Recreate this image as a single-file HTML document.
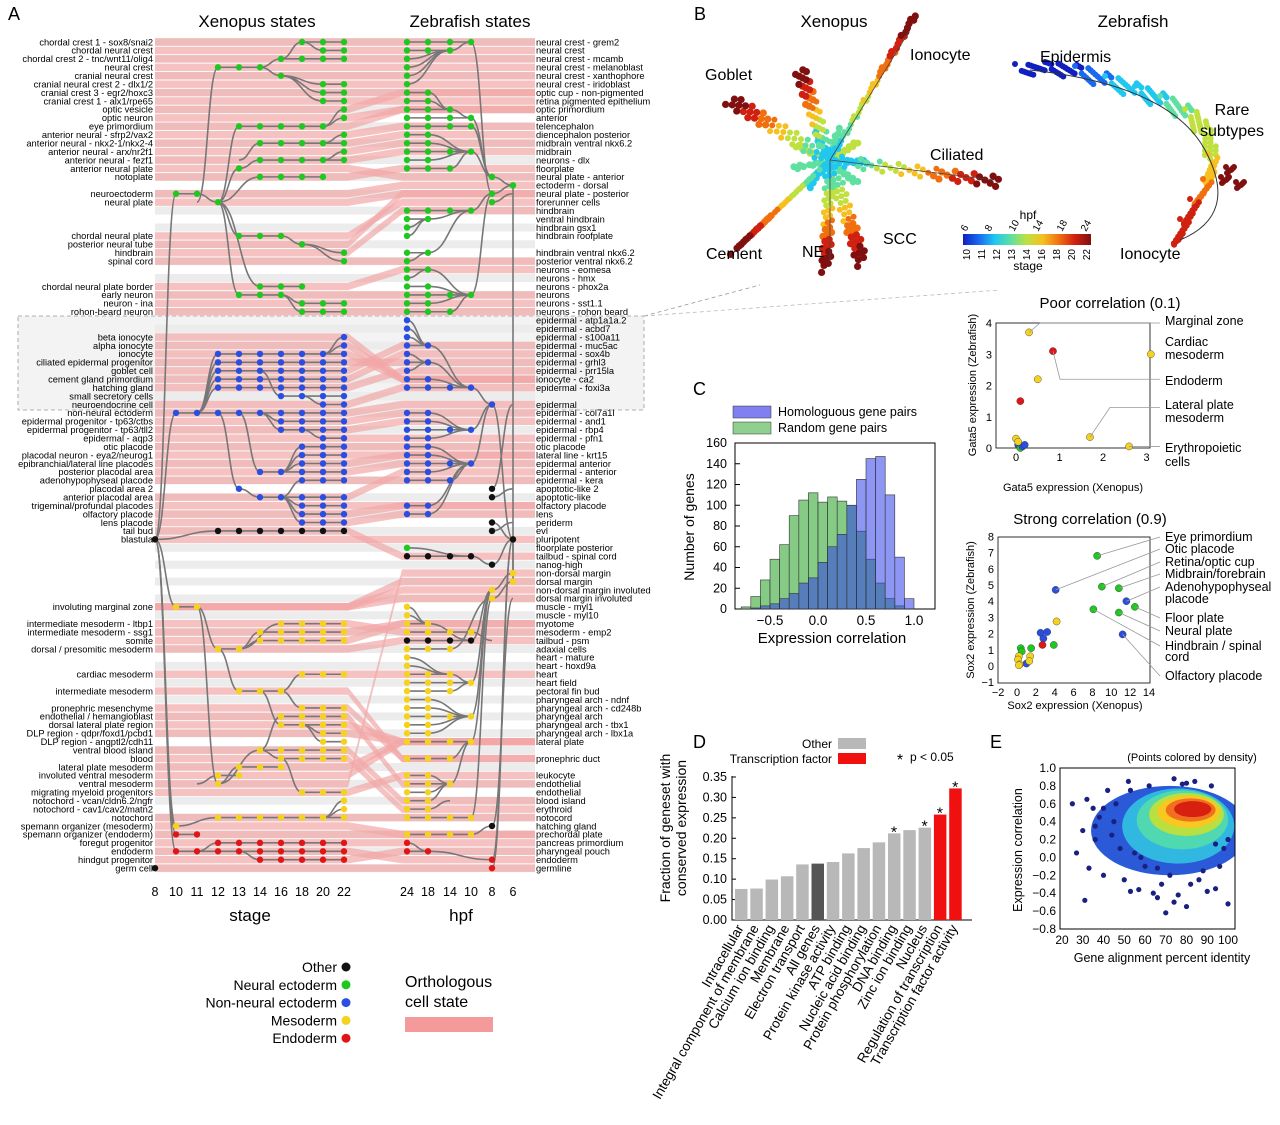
<!DOCTYPE html>
<html><head><meta charset="utf-8"><style>
html,body{margin:0;padding:0;background:#fff}
svg{display:block;font-family:"Liberation Sans",sans-serif}
</style></head><body>
<svg id="fig" width="1280" height="1125" viewBox="0 0 1280 1125" xmlns="http://www.w3.org/2000/svg">
<defs>
<clipPath id="eclip"><rect x="1060" y="768" width="175" height="161"/></clipPath>
</defs>
<g id="pA"></g>
<g id="pB"></g>
<g id="pC"></g>
<g id="pD"></g>
<g id="pE"></g>
</svg>
<script>
// ===== Panel A data =====
const leftRows = [
[0,"chordal crest 1 - sox8/snai2","n",7,9,2],[1,"chordal neural crest","n",8,9,0],[2,"chordal crest 2 - tnc/wnt11/olig4","n",6,9,3],
[3,"neural crest","n",3,5,19],[4,"cranial neural crest","n",6,6,3],[5,"cranial neural crest 2 - dlx1/2","n",8,9,4],
[6,"cranial crest 3 - egr2/hoxc3","n",8,9,4],[7,"cranial crest 1 - alx1/rpe65","n",8,9,4],[8,"optic vesicle","n",9,9,10],
[9,"optic neuron","n",9,9,10],[10,"eye primordium","n",4,8,19],[11,"anterior neural - sfrp2/vax2","n",9,9,12],
[12,"anterior neural - nkx2-1/nkx2-4","n",5,9,14],[13,"anterior neural - arx/nr2f1","n",9,9,14],[14,"anterior neural - fezf1","n",5,9,15],
[15,"anterior neural plate","n",4,4,19],[16,"notoplate","n",5,8,19],[18,"neuroectoderm","n",1,2,59],[19,"neural plate","n",3,3,18],
[23,"chordal neural plate","n",4,6,19],[24,"posterior neural tube","n",7,7,23],[25,"hindbrain","n",9,9,24],[26,"spinal cord","n",9,9,24],
[29,"chordal neural plate border","n",5,7,19],[30,"early neuron","n",4,6,19],[31,"neuron - ina","n",7,9,30],[32,"rohon-beard neuron","n",7,9,30],
[35,"beta ionocyte","e",9,9,37],[36,"alpha ionocyte","e",9,9,37],[37,"ionocyte","e",3,9,44],[38,"ciliated epidermal progenitor","e",3,9,44],
[39,"goblet cell","e",3,9,44],[40,"cement gland primordium","e",3,9,44],[41,"hatching gland","e",3,9,44],[42,"small secretory cells","e",6,9,39],
[43,"neuroendocrine cell","e",8,9,42],[44,"non-neural ectoderm","e",1,9,59],[45,"epidermal progenitor - tp63/ctbs","e",6,9,44],
[46,"epidermal progenitor - tp63/tll2","e",6,9,44],[47,"epidermal - aqp3","e",8,9,46],[48,"otic placode","e",7,9,51],
[49,"placodal neuron - eya2/neurog1","e",7,9,51],[50,"epibranchial/lateral line placodes","e",7,9,51],[51,"posterior placodal area","e",5,9,44],
[52,"adenohypophyseal placode","e",7,9,54],[53,"placodal area 2","e",4,4,44],[54,"anterior placodal area","e",5,9,53],
[55,"trigeminal/profundal placodes","e",7,9,54],[56,"olfactory placode","e",7,9,54],[57,"lens placode","e",7,9,54],
[58,"tail bud","o",3,9,59],[59,"blastula","o",0,0,-1],
[67,"involuting marginal zone","m",1,2,59],[69,"intermediate mesoderm - ltbp1","m",6,9,72],[70,"intermediate mesoderm - ssg1","m",5,9,72],
[71,"somite","m",5,9,72],[72,"dorsal / presomitic mesoderm","m",3,4,67],[75,"cardiac mesoderm","m",7,9,77],[77,"intermediate mesoderm","m",4,6,72],
[79,"pronephric mesenchyme","m",7,9,77],[80,"endothelial / hemangioblast","m",6,9,84],[81,"dorsal lateral plate region","m",6,9,77],
[82,"DLP region - qdpr/foxd1/pcbd1","m",8,9,81],[83,"DLP region - angptl2/cdh11","m",8,9,81],[84,"ventral blood island","m",5,9,88],
[85,"blood","m",6,9,84],[86,"lateral plate mesoderm","m",4,6,88],[87,"involuted ventral mesoderm","m",3,4,88],[88,"ventral mesoderm","m",3,3,67],
[89,"migrating myeloid progenitors","m",7,9,85],[90,"notochord - vcan/cldn6.2/ngfr","m",9,9,92],[91,"notochord - cav1/cav2/matn2","m",9,9,92],
[92,"notochord","m",3,9,93],[93,"spemann organizer (mesoderm)","m",1,1,59],[94,"spemann organizer (endoderm)","d",1,2,59],
[95,"foregut progenitor","d",3,9,96],[96,"endoderm","d",1,9,59],[97,"hindgut progenitor","d",5,9,96],[98,"germ cell","o",0,0,-1]
];
const rightRows = [
[0,"neural crest - grem2","n",3,18],[1,"neural crest","n",2,0],[2,"neural crest - mcamb","n",0,1],[3,"neural crest - melanoblast","n",0,1],
[4,"neural crest - xanthophore","n",0,1],[5,"neural crest - iridoblast","n",0,1],[6,"optic cup - non-pigmented","n",1,8],[7,"retina pigmented epithelium","n",1,8],
[8,"optic primordium","n",2,9],[9,"anterior","n",3,16],[10,"telencephalon","n",3,16],[11,"diencephalon posterior","n",1,13],
[12,"midbrain ventral nkx6.2","n",1,13],[13,"midbrain","n",3,16],[14,"neurons - dlx","n",1,13],[15,"floorplate","n",2,13],
[16,"neural plate - anterior","n",4,17],[17,"ectoderm - dorsal","n",5,59],[18,"neural plate - posterior","n",4,17],[19,"forerunner cells","n",4,18],
[20,"hindbrain","n",3,18],[21,"ventral hindbrain","n",1,20],[22,"hindbrain gsx1","n",0,21],[23,"hindbrain roofplate","n",0,21],
[25,"hindbrain ventral nkx6.2","n",1,20],[26,"posterior ventral nkx6.2","n",0,25],[27,"neurons - eomesa","n",1,30],[28,"neurons - hmx","n",0,27],
[29,"neurons - phox2a","n",1,30],[30,"neurons","n",3,18],[31,"neurons - sst1.1","n",1,30],[32,"neurons - rohon beard","n",2,30],
[33,"epidermal - atp1a1a.2","e",0,36],[34,"epidermal - acbd7","e",0,36],[35,"epidermal - s100a11","e",0,36],[36,"epidermal - muc5ac","e",1,41],
[37,"epidermal - sox4b","e",0,38],[38,"epidermal - grhl3","e",1,41],[39,"epidermal - prr15la","e",0,38],[40,"ionocyte - ca2","e",1,41],
[41,"epidermal - foxi3a","e",3,43],[43,"epidermal","e",4,59],[44,"epidermal - col7a1l","e",1,46],[45,"epidermal - and1","e",1,46],
[46,"epidermal - rbp4","e",3,43],[47,"epidermal - pfn1","e",1,46],[48,"otic placode","e",1,50],[49,"lateral line - krt15","e",1,50],
[50,"epidermal anterior","e",3,43],[51,"epidermal - anterior","e",1,50],[52,"epidermal - kera","e",2,50],[53,"apoptotic-like 2","o",4,43],
[54,"apoptotic-like","o",4,53],[55,"olfactory placode","e",1,50],[56,"lens","e",1,50],[57,"periderm","o",4,59],[58,"evl","o",4,57],
[59,"pluripotent","o",5,-1],[60,"floorplate posterior","n",0,61],[61,"tailbud - spinal cord","o",3,62],[62,"nanog-high","o",4,59],
[63,"non-dorsal margin","m",5,59],[64,"dorsal margin","m",5,59],[65,"non-dorsal margin involuted","m",4,63],[66,"dorsal margin involuted","m",4,64],
[67,"muscle - myl1","m",0,69],[68,"muscle - myl10","m",0,69],[69,"myotome","m",1,71],[70,"mesoderm - emp2","m",3,71],
[71,"tailbud - psm","o",3,65],[72,"adaxial cells","m",2,66],[73,"heart - mature","m",0,75],[74,"heart - hoxd9a","m",0,75],
[75,"heart","m",2,76],[76,"heart field","m",3,65],[77,"pectoral fin bud","m",2,76],[78,"pharyngeal arch - ndnf","m",1,80],
[79,"pharyngeal arch - cd248b","m",1,80],[80,"pharyngeal arch","m",3,65],[81,"pharyngeal arch - tbx1","m",1,80],[82,"pharyngeal arch - lbx1a","m",1,80],
[83,"lateral plate","m",3,65],[85,"pronephric duct","m",2,83],[87,"leukocyte","m",1,88],[88,"endothelial","m",2,83],[89,"endothelial","m",1,88],
[90,"blood island","m",1,88],[91,"erythroid","m",1,90],[92,"notocord","m",3,66],[93,"hatching gland","o",4,66],[94,"prechordal plate","m",3,93],
[95,"pancreas primordium","d",0,96],[96,"pharyngeal pouch","d",1,97],[97,"endoderm","d",4,59],[98,"germline","d",4,59]
];
const orthoPairs = [[0,0],[1,1],[2,2],[3,3],[4,4],[5,5],[6,6],[7,7],[8,6],[9,8],[10,8],[11,10],[12,11],[13,12],[14,13],[15,16],[16,15],
[18,17],[19,18],[23,19],[24,18],[25,20],[26,26],[29,27],[30,30],[31,31],[32,32],[35,40],[36,40],[37,40],[38,38],[39,36],[40,37],[41,39],
[43,41],[44,43],[45,44],[46,45],[47,47],[48,48],[49,49],[50,49],[51,50],[52,52],[54,51],[55,55],[56,55],[57,56],[58,61],[59,59],
[67,64],[67,65],[67,66],[69,70],[70,69],[71,69],[72,71],[75,75],[77,85],[79,85],[80,88],[81,83],[82,83],[84,90],[85,91],[86,83],[87,83],
[88,63],[89,87],[92,92],[93,94],[94,94],[95,95],[96,97],[97,96],[98,98]];
const stageTicks = ["8","10","11","12","13","14","16","18","20","22"];
const hpfTicks = ["24","18","14","10","8","6"];

// ===== Panel C data =====
const histBinStarts = [-0.8,-0.7,-0.6,-0.5,-0.4,-0.3,-0.2,-0.1,0.0,0.1,0.2,0.3,0.4,0.5,0.6,0.7,0.8,0.9];
const randomCounts =  [2,12,28,48,62,90,105,112,103,108,104,100,75,48,25,10,3,0];
const homologCounts = [0,1,3,5,10,15,25,30,45,60,72,100,125,145,147,110,50,10];
const histYTicks = [0,20,40,60,80,100,120,140,160];
const histXTicks = [-0.5,0.0,0.5,1.0];

// ===== Panel D data =====
const goCategories = ["Intracellular","Integral component of membrane","Calcium ion binding","Membrane","Electron transport","All genes","Protein kinase activity","ATP binding","Nucleic acid binding","Protein phosphorylation","DNA binding","Zinc ion binding","Nucleus","Regulation of transcription","Transcription factor activity"];
const goValues = [0.076,0.077,0.099,0.107,0.136,0.138,0.142,0.163,0.176,0.19,0.212,0.22,0.226,0.258,0.322];
const goType = ["o","o","o","o","o","a","o","o","o","o","o","o","o","t","t"];
const goSig = [0,0,0,0,0,0,0,0,0,0,1,0,1,1,1];
const goYTicks = [0.00,0.05,0.10,0.15,0.20,0.25,0.30,0.35];

// ===== Panel B scatter data =====
const poorX = [0.3,0.85,0.5,0.1,1.7,3.1,2.6,0.05,0.1,0.15,0.0,0.2,0.05];
const poorY = [3.7,3.1,2.2,1.5,0.35,3.0,0.05,0.1,0.0,0.05,0.3,0.1,0.2];
const poorC = ["m","d","m","d","m","m","m","e","n","e","m","e","m"];
const strongX = [8.5,4.1,9,10.8,11.6,12.5,8.1,10.8,11.2,2.5,3.2,2.8,2.7,4.2,3.9,1.5,0.4,0.5,1.0,0.2,0.1,0.3,1.4,1.3,0.2];
const strongY = [6.8,4.7,4.9,4.8,4.0,3.65,3.5,3.3,1.95,2.05,2.1,1.7,1.3,2.75,1.3,1.1,1.1,0.9,0.15,0.6,0.4,0.1,0.6,0.3,0.05];
const strongC = ["n","e","n","n","e","n","n","n","e","e","e","e","d","m","n","n","n","n","e","m","m","m","m","m","m"];

// ===== Panel E sparse points =====
const eX = [25,27,30,32,33,35,36,38,40,42,44,46,48,50,52,53,55,57,58,60,62,64,66,68,70,72,74,76,78,80,82,84,86,88,90,92,94,96,98,100,31,40,53,66,74,80,94,100,45,36];
const eY = [0.6,0.05,0.3,0.65,-0.12,0.55,0.2,0.45,0.55,0.75,0.25,0.6,0.1,-0.25,0.85,-0.38,0.05,-0.36,0.0,-0.1,0.8,-0.4,-0.45,-0.3,-0.62,-0.2,0.88,-0.42,0.82,-0.55,-0.3,0.85,-0.25,-0.15,-0.38,0.8,-0.35,-0.1,0.1,-0.52,-0.48,-0.2,0.75,-0.12,-0.5,0.83,0.15,0.2,0.4,0.35];
const eYTicks = [1.0,0.8,0.6,0.4,0.2,0.0,-0.2,-0.4,-0.6,-0.8];
const eXTicks = [20,30,40,50,60,70,80,90,100];

const NS = "http://www.w3.org/2000/svg";
function mk(parent, tag, attrs, text){
  const el = document.createElementNS(NS, tag);
  for (const k in attrs) el.setAttribute(k, attrs[k]);
  if (text !== undefined) el.textContent = text;
  parent.appendChild(el);
  return el;
}
const COL = {n:"#1fc81f", e:"#2a4fe0", m:"#f5d21e", d:"#e01515", o:"#111"};

// ===== Panel A =====
const A = document.getElementById("pA");
const XL = [155,176,197,218,239,260,281,302,323,344];
const XR = [407,428,450,471,492,513];
function rowY(i){ return 42 + 8.43*i; }

let t = mk(A,"text",{x:8,y:20,"font-size":18},"A");


t = mk(A,"text",{x:257,y:27,"font-size":17,"text-anchor":"middle"},"Xenopus states");


t = mk(A,"text",{x:470,y:27,"font-size":17,"text-anchor":"middle"},"Zebrafish states");



let box = mk(A,"rect",{x:18,y:316,width:626,height:94,fill:"#f3f3f3",stroke:"#999","stroke-dasharray":"4,3","stroke-width":0.8});


mk(A,"line",{x1:644,y1:316,x2:760,y2:285,stroke:"#999","stroke-dasharray":"4,3","stroke-width":0.8});
mk(A,"line",{x1:644,y1:316,x2:1000,y2:290,stroke:"#bbb","stroke-dasharray":"4,3","stroke-width":0.8});

for (let i=0;i<99;i++){
  if (i%2===0){
    const s = mk(A,"rect",{x:155,y:rowY(i)-4,width:380,height:8,fill:"#ececec"});
    
    
  }
}
orthoPairs.forEach(p=>{
  const yl = rowY(p[0]), yr = rowY(p[1]), h=3.7;
  const d = `M155 ${yl-h} L348 ${yl-h} L402 ${yr-h} L535 ${yr-h} L535 ${yr+h} L402 ${yr+h} L348 ${yl+h} L155 ${yl+h} Z`;
  const b = mk(A,"path",{d:d,fill:"#f2a6a6","fill-opacity":0.7});
  
  
});

function curve(g,x1,y1,x2,y2){
  const mx=(x1+x2)/2;
  const c = mk(g,"path",{d:`M${x1} ${y1} C${mx} ${y1} ${mx} ${y2} ${x2} ${y2}`,fill:"none",stroke:"#777","stroke-width":1.6});
  
  
}
leftRows.forEach(r=>{
  const [i,lab,c,s,e,p]=r, y=rowY(i);
  if (e>s) { const l=mk(A,"line",{x1:XL[s],y1:y,x2:XL[e],y2:y,stroke:"#777","stroke-width":1.6});
      }
  if (p>=0){
    const pr = leftRows.find(q=>q[0]===p);
    const px = p===59 ? XL[0] : XL[Math.min(pr[4], s-1)];
    curve(A, px, rowY(p), XL[s], y);
  }
});
rightRows.forEach(r=>{
  const [i,lab,c,e,p]=r, y=rowY(i);
  if (e>0 && e<4){ const l=mk(A,"line",{x1:XR[0],y1:y,x2:XR[e],y2:y,stroke:"#777","stroke-width":1.6});
      }
  if (p>=0){
    const pr = rightRows.find(q=>q[0]===p);
    const pe = pr ? pr[3] : 5;
    curve(A, XR[e], y, XR[Math.max(pe, Math.min(5,e+1))], rowY(p));
  }
});
leftRows.forEach(r=>{
  const [i,lab,c,s,e]=r, y=rowY(i);
  for (let k=s;k<=e;k++){
    const d=mk(A,"circle",{cx:XL[k],cy:y,r:3.2,fill:COL[c]});
    
    
  }
  const tl=mk(A,"text",{x:153,y:y+3.3,"font-size":9.3,"text-anchor":"end"},lab);
  
  
});
rightRows.forEach(r=>{
  const [i,lab,c,e]=r, y=rowY(i);
  const ks = e>=4 ? [e] : Array.from({length:e+1},(_,k)=>k);
  ks.forEach(k=>{
    const d=mk(A,"circle",{cx:XR[k],cy:y,r:3.2,fill:COL[c]});
    
    
  });
  const tl=mk(A,"text",{x:536,y:y+3.3,"font-size":9.3},lab);
  
  
});
stageTicks.forEach((s,k)=>{
  const tt=mk(A,"text",{x:XL[k],y:896,"font-size":12.5,"text-anchor":"middle"},s);
   
});
hpfTicks.forEach((s,k)=>{
  const tt=mk(A,"text",{x:XR[k],y:896,"font-size":12.5,"text-anchor":"middle"},s);
   
});
t=mk(A,"text",{x:250,y:921,"font-size":17,"text-anchor":"middle"},"stage");
 
t=mk(A,"text",{x:461,y:921,"font-size":17,"text-anchor":"middle"},"hpf");
 
const legA = [["Other","o"],["Neural ectoderm","n"],["Non-neural ectoderm","e"],["Mesoderm","m"],["Endoderm","d"]];
legA.forEach((l,k)=>{
  const y=967+k*17.8;
  const tt=mk(A,"text",{x:337,y:y+5,"font-size":14,"text-anchor":"end"},l[0]);
   
  const c=mk(A,"circle",{cx:346,cy:y,r:4.5,fill:COL[l[1]]});
   
});
t=mk(A,"text",{x:405,y:987,"font-size":16},"Orthologous");
 
mk(A,"text",{x:405,y:1007,"font-size":16},"cell state");
t=mk(A,"rect",{x:405,y:1017,width:88,height:15,fill:"#f49a9a"});
 

// ===== Panel B =====
const B = document.getElementById("pB");
function txt(g,x,y,s,str,anchor,name){
  const e=mk(g,"text",{x:x,y:y,"font-size":s,"text-anchor":anchor||"start"},str);
   
  return e;
}
txt(B,694,20,18,"B","start","panel-b-label");
txt(B,834,27,17,"Xenopus","middle","xenopus-embedding-title");
txt(B,1133,27,17,"Zebrafish","middle","zebrafish-embedding-title");
const grad = ["#1020c0","#1a6af0","#20c8f0","#60e0a0","#c0e040","#f5c020","#f07010","#d02010","#801010"];
const xArms = [[730,100],[915,15],[1000,182],[735,250],[826,268],[862,262],[800,70]];
const cx0=830, cy0=160;
for (let k=0;k<90;k++){
  const a=k*0.7, rr=6+ (k%11)*3.5;
  const c=mk(B,"circle",{cx:cx0+Math.cos(a)*rr*0.9,cy:cy0+Math.sin(a)*rr*0.8,r:3.5,fill:grad[2+(k%3)]});
   
}
xArms.forEach(a=>{
  for (let k=0;k<=45;k++){
    const f=k/45, off=((k*7)%5-2)*2.2;
    const x=cx0+(a[0]-cx0)*f+off, y=cy0+(a[1]-cy0)*f-off;
    const gi=Math.min(8,Math.floor(2+f*7));
    const c=mk(B,"circle",{cx:x,cy:y,r:f>0.6?3.6:3,fill:grad[gi]});
     
  }
});
mk(B,"path",{d:"M830 160 L910 30 M830 160 L995 180 M830 160 L830 262",stroke:"#444","stroke-width":0.8,fill:"none"});
txt(B,705,80,16,"Goblet");txt(B,910,60,16,"Ionocyte");txt(B,930,160,16,"Ciliated");
txt(B,706,259,16,"Cement");txt(B,802,257,16,"NE");txt(B,883,244,16,"SCC");
const zPts=[[1020,70,0],[1050,68,0],[1080,72,1],[1110,82,2],[1140,92,2],[1165,102,3],[1190,115,4],[1205,132,4],[1213,160,5],[1208,185,6],[1195,205,7],[1185,225,7],[1175,245,8]];
for (let s=0;s<zPts.length-1;s++){
  const p=zPts[s], q=zPts[s+1];
  for (let j=0;j<18;j++){
    const f=j/18;
    const c=mk(B,"circle",{cx:p[0]+(q[0]-p[0])*f+((j*5)%11)-5,cy:p[1]+(q[1]-p[1])*f+((j*7)%13)-6,r:3,fill:grad[p[2]]});
     
  }
}
[[1225,180],[1240,185],[1230,170]].forEach(p=>{for(let j=0;j<8;j++){const c=mk(B,"circle",{cx:p[0]+((j*5)%9)-4,cy:p[1]+((j*3)%7)-3,r:3,fill:grad[8]});}});
mk(B,"path",{d:"M1030 70 Q1170 85 1205 150 T1180 240",stroke:"#333","stroke-width":1,fill:"none"});
txt(B,1040,62,16,"Epidermis");txt(B,1232,115,16,"Rare","middle");txt(B,1232,136,16,"subtypes","middle");
txt(B,1120,259,16,"Ionocyte");
const lg=mk(document.querySelector("defs"),"linearGradient",{id:"cbg",x1:0,x2:1,y1:0,y2:0});
grad.forEach((g,k)=>mk(lg,"stop",{offset:k/8,"stop-color":g}));
t=mk(B,"rect",{x:963,y:234,width:128,height:11,fill:"url(#cbg)"});
 
txt(B,1028,219,12,"hpf","middle");txt(B,1028,270,12,"stage","middle");
const cbTop=["6","8","10","14","18","24"], cbBot=["10","11","12","13","14","16","18","20","22"];
cbTop.forEach((s,k)=>{const x=966+k*24; const e=txt(B,x,232,10,s); e.setAttribute("transform",`rotate(-60 ${x} 232)`);});
cbBot.forEach((s,k)=>{const x=970+k*15; const e=txt(B,x,249,10,s,"end"); e.setAttribute("transform",`rotate(-90 ${x} 249)`);});

// poor correlation
const pX=v=>1016+v*43.5, pY=v=>448-v*31.25;
mk(B,"rect",{x:996,y:323,width:154,height:125,fill:"none",stroke:"#000","stroke-width":0.8});
txt(B,1110,308,15,"Poor correlation (0.1)","middle","poor-correlation-title");
[0,1,2,3].forEach(v=>{txt(B,pX(v),461,11,String(v),"middle","poor-x-tick");});
[0,1,2,3,4].forEach(v=>{txt(B,992,pY(v)+4,11,String(v),"end","poor-y-tick");});
txt(B,1073,491,11,"Gata5 expression (Xenopus)","middle","poor-x-axis-title");
let yl=txt(B,976,385,11,"Gata5 expression (Zebrafish)","middle","poor-y-axis-title"); yl.setAttribute("transform","rotate(-90 976 385)");
poorX.forEach((v,k)=>{
  const c=mk(B,"circle",{cx:pX(v),cy:pY(poorY[k]),r:3.6,fill:COL[poorC[k]],stroke:"#333","stroke-width":0.4});
   
});
mk(B,"path",{d:`M${pX(0.3)} ${pY(3.7)} L1040 ${pY(4)} L1160 ${pY(4)} M${pX(0.85)} ${pY(3.1)} L1060 ${pY(2.2)} L1160 ${pY(2.2)} M${pX(1.7)} ${pY(0.35)} L1110 ${pY(1.3)} L1160 ${pY(1.3)} M${pX(2.6)} ${pY(0.05)} L1160 ${pY(0.05)}`,stroke:"#999",fill:"none","stroke-width":0.8});
txt(B,1165,325,12.5,"Marginal zone");txt(B,1165,346,12.5,"Cardiac");txt(B,1165,359,12.5,"mesoderm");
txt(B,1165,385,12.5,"Endoderm");txt(B,1165,409,12.5,"Lateral plate");txt(B,1165,422,12.5,"mesoderm");
txt(B,1165,452,12.5,"Erythropoietic");txt(B,1165,466,12.5,"cells");

// strong correlation
const sX=v=>1017+v*9.43, sY=v=>666-v*16.2;
mk(B,"rect",{x:998,y:537,width:152,height:146,fill:"none",stroke:"#000","stroke-width":0.8});
txt(B,1090,524,15,"Strong correlation (0.9)","middle","strong-correlation-title");
[-2,0,2,4,6,8,10,12,14].forEach(v=>txt(B,sX(v),696,11,v<0?"\u22122":String(v),"middle","strong-x-tick"));
[-1,0,1,2,3,4,5,6,7,8].forEach(v=>txt(B,994,sY(v)+4,11,v<0?"\u22121":String(v),"end","strong-y-tick"));
txt(B,1075,709,11,"Sox2 expression (Xenopus)","middle","strong-x-axis-title");
yl=txt(B,974,610,11,"Sox2 expression (Zebrafish)","middle","strong-y-axis-title"); yl.setAttribute("transform","rotate(-90 974 610)");
strongX.forEach((v,k)=>{
  const c=mk(B,"circle",{cx:sX(v),cy:sY(strongY[k]),r:3.6,fill:COL[strongC[k]],stroke:"#333","stroke-width":0.4});
   
});
const strongLabels=["Eye primordium","Otic placode","Retina/optic cup","Midbrain/forebrain","Adenohypophyseal","placode","Floor plate","Neural plate","Hindbrain / spinal","cord","Olfactory placode"];
const slY=[541,553,566,578,591,603,622,635,650,661,680];
strongLabels.forEach((s,k)=>txt(B,1165,slY[k],12.5,s,"start","strong-annotation"));
mk(B,"path",{d:`M${sX(8.5)} ${sY(6.8)} L1160 537 M${sX(4.1)} ${sY(4.7)} L1160 549 M${sX(9)} ${sY(4.9)} L1160 562 M${sX(10.8)} ${sY(4.8)} L1160 574 M${sX(11.6)} ${sY(4)} L1160 587 M${sX(12.5)} ${sY(3.65)} L1160 618 M${sX(10.8)} ${sY(3.3)} L1160 631 M${sX(8.1)} ${sY(3.5)} L1160 646 M${sX(11.2)} ${sY(1.95)} L1160 676`,stroke:"#999","stroke-width":0.8,fill:"none"});

// ===== Panel C =====
const C = document.getElementById("pC");
txt(C,693,395,18,"C","start","panel-c-label");
const hx=v=>818+v*96, hy=v=>609-v*1.0375;
mk(C,"rect",{x:735,y:443,width:200,height:166,fill:"none",stroke:"#000","stroke-width":1});
histBinStarts.forEach((b,k)=>{
  if (randomCounts[k]>0){
    const r=mk(C,"rect",{x:hx(b),y:hy(randomCounts[k]),width:9.6,height:randomCounts[k]*1.0375,fill:"#5cb85c","fill-opacity":0.75,stroke:"#333","stroke-width":0.6});
     
  }
});
histBinStarts.forEach((b,k)=>{
  if (homologCounts[k]>0){
    const r=mk(C,"rect",{x:hx(b),y:hy(homologCounts[k]),width:9.6,height:homologCounts[k]*1.0375,fill:"#3040e8","fill-opacity":0.55,stroke:"#333","stroke-width":0.6});
     
  }
});
histYTicks.forEach(v=>{ txt(C,727,hy(v)+4,12.5,String(v),"end","hist-y-tick"); mk(C,"line",{x1:735,x2:740,y1:hy(v),y2:hy(v),stroke:"#000"}); });
histXTicks.forEach(v=>{ txt(C,hx(v),625,13.5,v<0?"\u22120.5":v.toFixed(1),"middle","hist-x-tick"); });
txt(C,832,643,15,"Expression correlation","middle","hist-x-axis-title");
yl=txt(C,694,527,14,"Number of genes","middle","hist-y-axis-title"); yl.setAttribute("transform","rotate(-90 694 527)");
t=mk(C,"rect",{x:733,y:406,width:38,height:12,fill:"#8080f0",stroke:"#333","stroke-width":0.5});  
t=mk(C,"rect",{x:733,y:422,width:38,height:12,fill:"#8fcf8f",stroke:"#333","stroke-width":0.5});  
txt(C,778,416,12.5,"Homologuous gene pairs","start","legend-homologous");
txt(C,778,432,12.5,"Random gene pairs","start","legend-random");

// ===== Panel D =====
const D = document.getElementById("pD");
txt(D,693,748,18,"D","start","panel-d-label");
const dy=v=>920-v*408.6, dx=k=>735+k*15.3;
mk(D,"path",{d:"M732 776 L732 920 L972 920",stroke:"#000",fill:"none","stroke-width":1});
goYTicks.forEach(v=>{ txt(D,727,dy(v)+4,12.5,v.toFixed(2),"end","bar-y-tick"); mk(D,"line",{x1:732,x2:736,y1:dy(v),y2:dy(v),stroke:"#000"}); });
goValues.forEach((v,k)=>{
  const fill = goType[k]==="t" ? "#f01010" : goType[k]==="a" ? "#555" : "#b8b8b8";
  const r=mk(D,"rect",{x:dx(k),y:dy(v),width:12.5,height:v*408.6,fill:fill});
   
  if (goSig[k]){ txt(D,dx(k)+6,dy(v)+4,16,"*","middle","significance-star"); }
  const cxl=dx(k)+9, cyl=928;
  const lab=txt(D,cxl,cyl,13.5,goCategories[k],"end","go-category-label");
  lab.setAttribute("transform",`rotate(-60 ${cxl} ${cyl})`);
});
t=mk(D,"rect",{x:838,y:738,width:28,height:11,fill:"#b8b8b8"});  
t=mk(D,"rect",{x:838,y:753,width:28,height:11,fill:"#f01010"});  
txt(D,832,748,12,"Other","end","legend-other");
txt(D,832,763,12,"Transcription factor","end","legend-tf");
txt(D,900,765,16,"*","middle");
txt(D,910,761,12,"p < 0.05","start","legend-significance");
yl=txt(D,670,828,14,"Fraction of geneset with","middle","bar-y-axis-title"); yl.setAttribute("transform","rotate(-90 670 828)");
yl=txt(D,686,828,14,"conserved expression","middle"); yl.setAttribute("transform","rotate(-90 686 828)");

// ===== Panel E =====
const E = document.getElementById("pE");
txt(E,990,748,18,"E","start","panel-e-label");
const ex=v=>1062+(v-20)*2.075, ey=v=>768+(1-v)*89.4;
txt(E,1192,761,11,"(Points colored by density)","middle","density-note");
const densG = mk(E,"g",{"clip-path":"url(#eclip)"});
const dens=[[72,0.3,38,0.5,"#2a5ad8"],[76,0.35,27,0.42,"#30b8e0"],[78,0.42,22,0.33,"#50d8b0"],[80,0.48,18,0.24,"#b8e040"],[81,0.51,15,0.18,"#f8c820"],[82,0.53,12,0.13,"#f07020"],[83,0.54,9,0.09,"#d82010"]];
dens.forEach(d=>{
  const c=mk(densG,"ellipse",{cx:ex(d[0]),cy:ey(d[1]),rx:d[2]*2.075,ry:d[3]*89.4,fill:d[4]});
   
});
eX.forEach((v,k)=>{
  const c=mk(E,"circle",{cx:ex(v),cy:ey(eY[k]),r:2.6,fill:"#1a2080"});
   
});
mk(E,"rect",{x:1060,y:768,width:175,height:161,fill:"none",stroke:"#000","stroke-width":1});
eYTicks.forEach(v=>txt(E,1056,ey(v)+4,12,v<0?"\u2212"+Math.abs(v).toFixed(1):v.toFixed(1),"end","e-y-tick"));
eXTicks.forEach(v=>txt(E,ex(v),944,12,String(v),"middle","e-x-tick"));
txt(E,1162,962,12.5,"Gene alignment percent identity","middle","e-x-axis-title");
yl=txt(E,1022,850,12.5,"Expression correlation","middle","e-y-axis-title"); yl.setAttribute("transform","rotate(-90 1022 850)");
</script>
</body></html>
